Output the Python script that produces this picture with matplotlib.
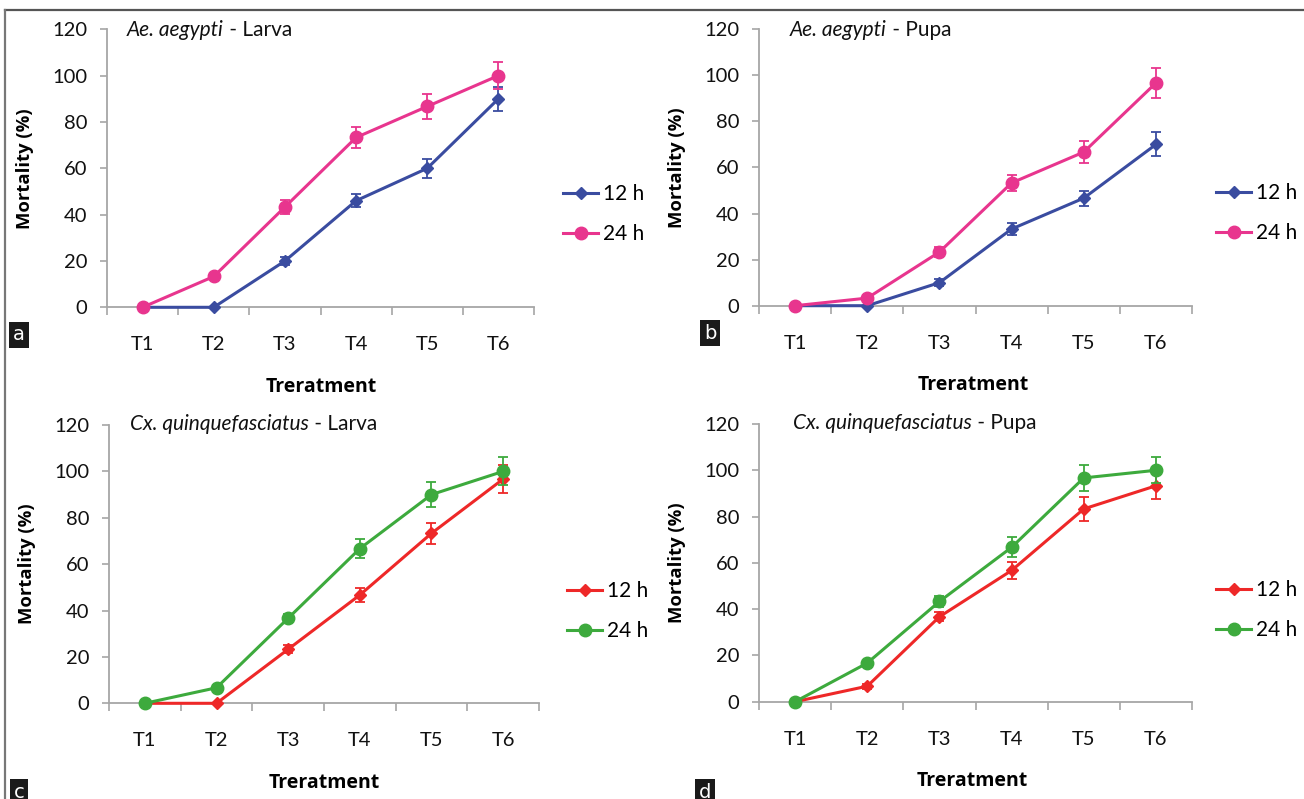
import matplotlib
matplotlib.use("Agg")
import matplotlib.pyplot as plt
from matplotlib.lines import Line2D

# ---------------- data ----------------
treatments = ["T1", "T2", "T3", "T4", "T5", "T6"]
series_labels = ["12 h", "24 h"]

a_12 = [0, 0, 20, 46, 60, 90]
a_12_err = [0, 0, 1.8, 2.9, 4.0, 5.3]
a_24 = [0, 13.3, 43.3, 73.3, 86.7, 100]
a_24_err = [0, 1.2, 3.0, 4.5, 5.4, 5.8]

b_12 = [0, 0, 10, 33.3, 46.7, 70]
b_12_err = [0, 0, 1.5, 2.5, 3.2, 5.2]
b_24 = [0, 3.3, 23.3, 53.3, 66.7, 96.7]
b_24_err = [0, 0.8, 2.2, 3.4, 4.7, 6.6]

c_12 = [0, 0, 23.3, 46.7, 73.3, 96.7]
c_12_err = [0, 0, 1.8, 3.0, 4.5, 6.0]
c_24 = [0, 6.7, 36.7, 66.7, 90, 100]
c_24_err = [0, 0.8, 2.0, 4.2, 5.4, 6.0]

d_12 = [0, 6.7, 36.7, 56.7, 83.3, 93.3]
d_12_err = [0, 1.0, 2.0, 3.6, 5.0, 5.6]
d_24 = [0, 16.7, 43.3, 66.7, 96.7, 100]
d_24_err = [0, 1.0, 2.5, 4.3, 5.5, 5.6]

titles_italic = ["Ae. aegypti", "Ae. aegypti", "Cx. quinquefasciatus", "Cx. quinquefasciatus"]
titles_plain = [" - Larva", " - Pupa", " - Larva", " - Pupa"]
panel_letters = ["a", "b", "c", "d"]
yticks = [0, 20, 40, 60, 80, 100, 120]

BLUE = "#3A4CA0"
PINK = "#E8358E"
RED = "#EE2828"
GREEN = "#3DAA3D"
SPINE = "#A6A6A6"

W, H = 1304, 799
fig = plt.figure(figsize=(W / 100, H / 100), dpi=100)

def fx(px):
    return px / W

def fy(py):
    return 1 - py / H

# axes pixel boxes: left, right, top(y=120), bottom(y=0)
boxes = [
    (107, 534, 29.3, 307.3),
    (759, 1192, 29.3, 305.7),
    (109, 539, 425, 703.3),
    (759, 1192, 424, 701.7),
]
data = [
    (a_12, a_12_err, a_24, a_24_err, BLUE, PINK),
    (b_12, b_12_err, b_24, b_24_err, BLUE, PINK),
    (c_12, c_12_err, c_24, c_24_err, RED, GREEN),
    (d_12, d_12_err, d_24, d_24_err, RED, GREEN),
]
legend_pos = [(553, 214), (1206, 213), (557, 611), (1206, 610)]
ylab_x = [25, 677, 27, 677]
xlab_pos = [(321, 387), (973, 385), (324, 783), (972, 781)]
title_pos = [(127, 30), (790, 30), (130, 424), (793, 423)]
letter_pos = [(19, 335), (710, 333), (19, 792), (705, 792)]

TICKFONT = "Lato"
BOLDFONT = "Open Sans"
TS = 14.5

for i in range(4):
    l, r, t, b = boxes[i]
    ax = fig.add_axes([fx(l), fy(b), (r - l) / W, (b - t) / H])
    s12, e12, s24, e24, c1, c2 = data[i]
    x = list(range(1, len(treatments) + 1))
    ax.errorbar(x, s12, yerr=e12, color=c1, lw=2.2, marker="D", ms=6.5,
                elinewidth=1.3, capsize=3.5, capthick=1.3, clip_on=False, zorder=3)
    ax.errorbar(x, s24, yerr=e24, color=c2, lw=2.2, marker="o", ms=9,
                elinewidth=1.3, capsize=3.5, capthick=1.3, clip_on=False, zorder=4)
    ax.set_xlim(0.5, 6.5)
    ax.set_ylim(0, 120)
    for sp in ["top", "right"]:
        ax.spines[sp].set_visible(False)
    for sp in ["left", "bottom"]:
        ax.spines[sp].set_color(SPINE)
        ax.spines[sp].set_linewidth(1.3)
    ax.set_yticks(yticks)
    ax.set_yticklabels([str(v) for v in yticks], fontsize=TS, family=TICKFONT, color="#111111")
    ax.tick_params(axis="y", direction="out", length=5, width=1.2, color=SPINE, pad=9)
    ax.set_xticks([k + 0.5 for k in range(0, 7)])
    ax.set_xticklabels([])
    ax.tick_params(axis="x", which="major", direction="out", length=6, width=1.2, color=SPINE)
    ax.set_xticks(x, minor=True)
    ax.set_xticklabels(treatments, minor=True, fontsize=TS, family=TICKFONT, color="#111111")
    ax.tick_params(axis="x", which="minor", length=0, pad=21)

    # y label
    fig.text(fx(ylab_x[i]), fy((t + b) / 2), "Mortality (%)", rotation=90,
             ha="center", va="center", fontsize=13.3, fontweight="bold", family=BOLDFONT)
    # x label
    fig.text(fx(xlab_pos[i][0]), fy(xlab_pos[i][1]), "Treratment", ha="center", va="center",
             fontsize=14, fontweight="bold", family=BOLDFONT)
    # title
    t1 = fig.text(fx(title_pos[i][0]), fy(title_pos[i][1]), titles_italic[i], ha="left",
                  va="center", fontsize=15, style="italic", family=TICKFONT, color="#111111")
    ax.annotate(titles_plain[i], xy=(1, 0.5), xycoords=t1, ha="left", va="center",
                fontsize=15, family=TICKFONT, color="#111111")
    # legend
    handles = [Line2D([], [], color=c1, lw=2.2, marker="D", ms=6.5),
               Line2D([], [], color=c2, lw=2.2, marker="o", ms=9)]
    ax.legend(handles, series_labels, loc="center left",
              bbox_to_anchor=(fx(legend_pos[i][0]), fy(legend_pos[i][1])),
              bbox_transform=fig.transFigure, frameon=False, borderpad=0,
              handlelength=1.65, handletextpad=0.25, labelspacing=0.95,
              prop={"family": TICKFONT, "size": 15})
    # panel letter
    fig.text(fx(letter_pos[i][0]), fy(letter_pos[i][1]), panel_letters[i], ha="center",
             va="center", fontsize=14, color="white", family="DejaVu Sans",
             bbox=dict(boxstyle="square,pad=0.2", fc="#1a1a1a", ec="none"))

# outer frame (top and left)
fig.add_artist(Line2D([fx(5), fx(W)], [fy(10), fy(10)], color="#555555", lw=1.6,
                      transform=fig.transFigure))
fig.add_artist(Line2D([fx(5), fx(5)], [fy(10), fy(H)], color="#777777", lw=1.6,
                      transform=fig.transFigure))

fig.savefig("out.png", dpi=100)
